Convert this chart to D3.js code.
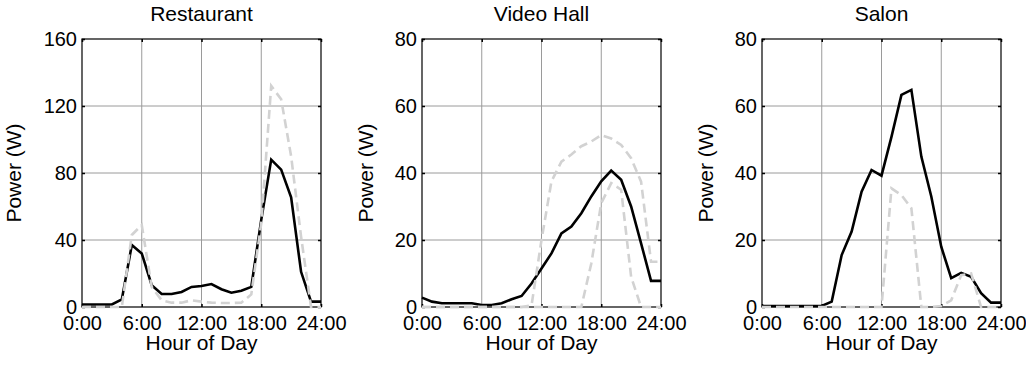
<!DOCTYPE html>
<html>
<head>
<meta charset="utf-8">
<script src="https://cdn.jsdelivr.net/npm/d3@7"></script>
<style>
  body { margin: 0; background: #fff; }
  svg { display: block; font-family: "Liberation Sans", Arial, sans-serif; }
</style>
</head>
<body>
<div id="chart"></div>
<script>
// hourly samples, 0:00 .. 24:00
const hours = d3.range(0, 25);
const xTickValues = [0, 6, 12, 18, 24];
const xTickLabels = ['0:00', '6:00', '12:00', '18:00', '24:00'];

const titles = ['Restaurant', 'Video Hall', 'Salon'];
const yMaxes = [160, 80, 80];
const yTicksRestaurant = [0, 40, 80, 120, 160];
const yTicksSmall = [0, 20, 40, 60, 80];

const restaurantSolid = [1.5, 1.5, 1.5, 1.5, 4.5, 37, 32, 13, 7.8, 7.8, 9, 12, 12.5, 13.7, 10.6, 8.5, 9.7, 12, 52, 88, 82, 65.5, 21, 3.2, 3.2];
const restaurantDashed = [0, 0, 0, 0, 0, 43, 49, 12, 4, 2.6, 2.6, 4, 3.2, 2.6, 2.4, 2.4, 2.6, 7.5, 50, 132, 124, 90, 42, 0, 0];

const videoSolid = [2.8, 1.6, 1.1, 1.1, 1.1, 1.1, 0.6, 0.6, 1.1, 2.3, 3.3, 7, 11.5, 16, 22, 24, 28, 33, 37.5, 40.7, 38, 30, 19, 7.8, 7.8];
const videoDashedA = [0, 0, 0, 0, 0, 0, 0, 0, 0, 0, 0, 0.5, 20, 37.5, 43.4, 45.5, 48, 49.4, 51.3, 50.3, 48.4, 44.4, 37.4, 13.5, 13.5];
const videoDashedB = [0, 0, 0, 0, 0, 0, 0, 0, 0, 0, 0, 0, 0, 0, 0, 0, 0, 13, 31, 37, 35, 9, 0, 0, 0];

const salonSolid = [0.3, 0.3, 0.3, 0.3, 0.3, 0.3, 0.3, 1.6, 15.5, 22.5, 34.4, 40.9, 39.2, 50.8, 63.3, 64.8, 44.9, 33, 18, 8.6, 10.2, 9, 4.1, 1.3, 1.3];
const salonDashed = [0, 0, 0, 0, 0, 0, 0, 0, 0, 0, 0, 0, 0, 35.4, 33.4, 29.5, 0, 0, 0.3, 2, 9.5, 10, 0, 0, 0];

const panels = [
  {title: titles[0], yMax: yMaxes[0], yTicks: yTicksRestaurant, solid: restaurantSolid, dashed: [restaurantDashed], left: 82, labelX: 21},
  {title: titles[1], yMax: yMaxes[1], yTicks: yTicksSmall, solid: videoSolid, dashed: [videoDashedA, videoDashedB], left: 422, labelX: 373},
  {title: titles[2], yMax: yMaxes[2], yTicks: yTicksSmall, solid: salonSolid, dashed: [salonDashed], left: 762, labelX: 713},
];

const width = 1026, height = 368;
const plotW = 239, plotH = 268, plotTop = 39;

const svg = d3.select('#chart').append('svg')
  .attr('width', width)
  .attr('height', height);

panels.forEach(function(p) {
  const x = d3.scaleLinear().domain([0, 24]).range([0, plotW]);
  const y = d3.scaleLinear().domain([0, p.yMax]).range([plotH, 0]);

  const g = svg.append('g').attr('transform', 'translate(' + p.left + ',' + plotTop + ')');

  // grid
  g.append('g').selectAll('line')
    .data(xTickValues.slice(1, -1)).enter().append('line')
    .attr('x1', d => x(d)).attr('x2', d => x(d))
    .attr('y1', 0).attr('y2', plotH)
    .attr('stroke', '#9a9a9a').attr('stroke-width', 1);
  g.append('g').selectAll('line')
    .data(p.yTicks.slice(1, -1)).enter().append('line')
    .attr('x1', 0).attr('x2', plotW)
    .attr('y1', d => y(d)).attr('y2', d => y(d))
    .attr('stroke', '#9a9a9a').attr('stroke-width', 1);

  // axes, ticks pointing inward
  const fmt = (d, i) => xTickLabels[i];
  g.append('g').attr('transform', 'translate(0,' + plotH + ')')
    .call(d3.axisBottom(x).tickValues(xTickValues).tickFormat(fmt).tickSizeInner(-3).tickSizeOuter(0).tickPadding(9))
    .call(a => a.select('.domain').remove());
  g.append('g')
    .call(d3.axisTop(x).tickValues(xTickValues).tickFormat('').tickSizeInner(-3).tickSizeOuter(0))
    .call(a => a.select('.domain').remove());
  g.append('g')
    .call(d3.axisLeft(y).tickValues(p.yTicks).tickSizeInner(-3).tickSizeOuter(0).tickPadding(5))
    .call(a => a.select('.domain').remove());
  g.append('g').attr('transform', 'translate(' + plotW + ',0)')
    .call(d3.axisRight(y).tickValues(p.yTicks).tickFormat('').tickSizeInner(-3).tickSizeOuter(0))
    .call(a => a.select('.domain').remove());

  g.selectAll('.tick line').attr('stroke', '#000').attr('stroke-width', 1.5);
  g.selectAll('.tick text').attr('fill', '#000').style('font-size', '20px')
    .style('font-family', '"Liberation Sans", Arial, sans-serif');

  g.append('rect')
    .attr('width', plotW).attr('height', plotH)
    .attr('fill', 'none').attr('stroke', '#000').attr('stroke-width', 1.2);

  const line = d3.line()
    .x((d, i) => x(hours[i]))
    .y(d => y(d));

  g.append('path')
    .datum(p.solid)
    .attr('d', line)
    .attr('fill', 'none')
    .attr('stroke', '#000')
    .attr('stroke-width', 2.6)
    .attr('stroke-linejoin', 'miter');

  p.dashed.forEach(function(ds) {
    g.append('path')
      .datum(ds)
      .attr('d', line)
      .attr('fill', 'none')
      .attr('stroke', '#d2d2d2')
      .attr('stroke-width', 2.6)
      .attr('stroke-dasharray', '9,5');
  });

  // labels
  svg.append('text')
    .attr('x', p.left + plotW / 2).attr('y', 21)
    .attr('text-anchor', 'middle')
    .style('font-size', '21px')
    .text(p.title);

  svg.append('text')
    .attr('x', p.left + plotW / 2).attr('y', 350)
    .attr('text-anchor', 'middle')
    .style('font-size', '21px')
    .text('Hour of Day');

  svg.append('text')
    .attr('transform', 'translate(' + p.labelX + ',' + (plotTop + plotH / 2) + ') rotate(-90)')
    .attr('text-anchor', 'middle')
    .style('font-size', '21px')
    .text('Power (W)');
});
</script>
</body>
</html>
